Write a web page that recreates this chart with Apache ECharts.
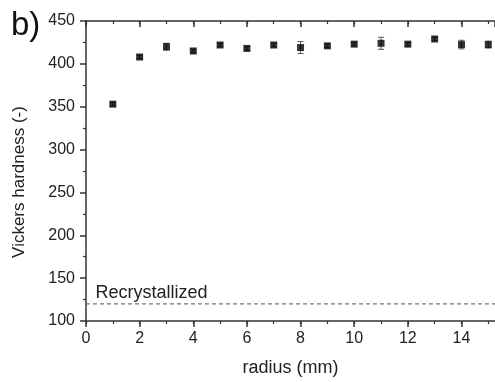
<!DOCTYPE html>
<html>
<head>
<meta charset="utf-8">
<script src="https://cdn.jsdelivr.net/npm/echarts@6/dist/echarts.min.js"></script>
<style>html,body{margin:0;padding:0;background:#fff}#c{width:495px;height:382px}</style>
</head>
<body>
<div id="c"></div>
<script>
const radius = [1,2,3,4,5,6,7,8,9,10,11,12,13,14,15];
const hardness = [353,408,420,415,422,418,422,419,421,423,424,423,429,422.5,422.5];
const hardnessErr = [2,2,4,2,2,2,2,7,2,2,7,2,2,5,4];
const recrystallizedLevel = 120;
const recrystallizedLabel = 'Recrystallized';
const xTicks = [0,2,4,6,8,10,12,14];
const yTicks = [100,150,200,250,300,350,400,450];

const chart = echarts.init(document.getElementById('c'));
const font = 'Liberation Sans, Arial, sans-serif';
const axisColor = '#333';
const textColor = '#222';
const X_MAX = 15.25;

const points = radius.map((r,i)=>[r, hardness[i]]);
const errData = radius.map((r,i)=>[r, hardness[i]-hardnessErr[i], hardness[i]+hardnessErr[i]]);

function helperX(pos, inside){
  return {
    type:'value', position:pos, min:0, max:X_MAX, interval:1,
    axisLine:{show:false}, splitLine:{show:false}, axisLabel:{show:false},
    axisTick:{show:true, inside:inside, length:3, lineStyle:{color:axisColor,width:1.2}}
  };
}

chart.setOption({
  animation:false,
  grid:{left:86, right:0, top:21, bottom:56},
  xAxis:[{
    type:'value', min:0, max:X_MAX, interval:2,
    axisLine:{lineStyle:{color:axisColor,width:1.5}},
    axisTick:{inside:false,length:6,lineStyle:{color:axisColor,width:1.5}},
    splitLine:{show:false},
    axisLabel:{fontSize:16,color:textColor,fontFamily:font,margin:10,showMaxLabel:false,
      formatter:v=> xTicks.includes(v)? String(v):''},
    name:'radius (mm)', nameLocation:'middle', nameGap:38,
    nameTextStyle:{fontSize:18,color:textColor,fontFamily:font}
  },{
    type:'value', position:'top', min:0, max:X_MAX, interval:2,
    axisLine:{lineStyle:{color:axisColor,width:1.5}},
    axisTick:{inside:true,length:6,lineStyle:{color:axisColor,width:1.5}},
    splitLine:{show:false},
    axisLabel:{show:false}
  },
  helperX('bottom', false),
  helperX('top', true)
  ],
  yAxis:{
    type:'value', min:100, max:450, interval:50,
    axisLine:{show:true,lineStyle:{color:axisColor,width:1.5}},
    axisTick:{show:true,inside:false,length:6,lineStyle:{color:axisColor,width:1.5}},
    minorTick:{show:true,splitNumber:2,length:3,lineStyle:{color:axisColor,width:1.2}},
    splitLine:{show:false},
    axisLabel:{fontSize:16,color:textColor,fontFamily:font,margin:11,
      formatter:v=> yTicks.includes(v)? String(v):''},
    name:'Vickers hardness (-)', nameLocation:'middle', nameGap:58, nameRotate:90,
    nameTextStyle:{fontSize:17,color:textColor,fontFamily:font,padding:[0,22,0,0]}
  },
  graphic:[
    {type:'text', left:11, top:9, style:{text:'b)', fontSize:33, fill:'#111', fontFamily:font}}
  ],
  series:[
    {
      type:'line', data:[[0,recrystallizedLevel],[X_MAX,recrystallizedLevel]],
      symbol:'none', lineStyle:{color:'#777',width:1.2,type:[4,3]}, silent:true, z:1,
      markPoint:{
        symbol:'rect', symbolSize:0,
        data:[{coord:[0.35,recrystallizedLevel], value:recrystallizedLabel}],
        label:{show:true, formatter:recrystallizedLabel, position:'right', offset:[-5,-11],
          fontSize:18, color:textColor, fontFamily:font}
      }
    },
    {
      type:'custom', data:errData, z:2, silent:true,
      renderItem:(params, api)=>{
        const x = api.value(0);
        const lo = api.coord([x, api.value(1)]);
        const hi = api.coord([x, api.value(2)]);
        const cw = 3;
        const style = {stroke:'#555', lineWidth:1};
        return {type:'group', children:[
          {type:'line', shape:{x1:lo[0],y1:lo[1],x2:hi[0],y2:hi[1]}, style},
          {type:'line', shape:{x1:lo[0]-cw,y1:lo[1],x2:lo[0]+cw,y2:lo[1]}, style},
          {type:'line', shape:{x1:hi[0]-cw,y1:hi[1],x2:hi[0]+cw,y2:hi[1]}, style}
        ]};
      }
    },
    {
      type:'scatter', data:points, symbol:'rect', symbolSize:7, z:3,
      itemStyle:{color:'#000'}
    }
  ]
});
</script>
</body>
</html>
